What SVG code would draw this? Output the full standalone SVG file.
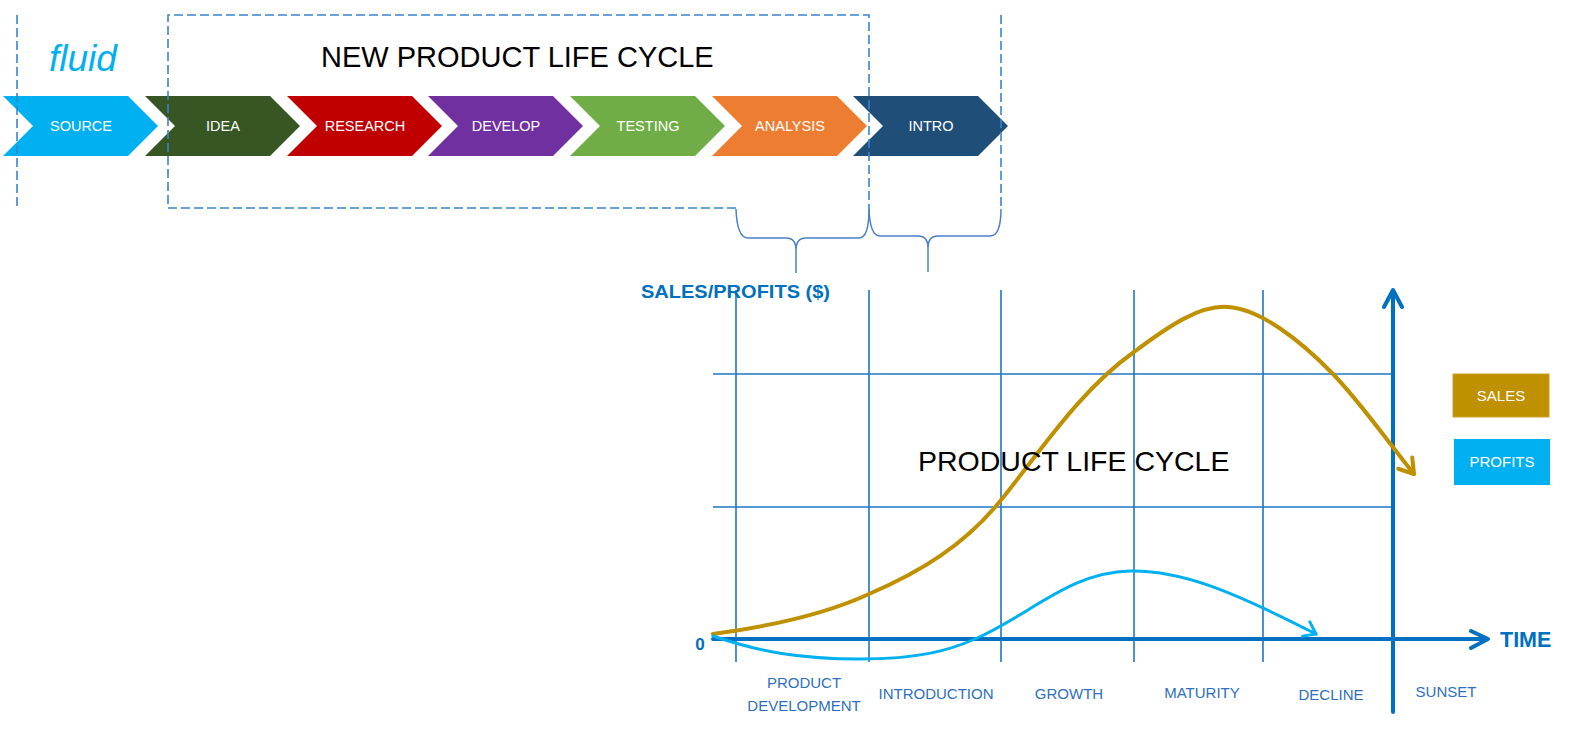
<svg xmlns="http://www.w3.org/2000/svg" width="1578" height="732" viewBox="0 0 1578 732">
<style>
.chev-t{font-family:"Liberation Sans",Arial,sans-serif;font-size:14.5px;fill:#fff;text-anchor:middle}
.dash{fill:none;stroke:#3A84CC;stroke-width:1.6;stroke-dasharray:9 4}
.brace{fill:none;stroke:#4A80C8;stroke-width:1.5}
.grid{stroke:#1F77C8;stroke-width:1.6;fill:none}
.axis{stroke:#0070C0;stroke-width:4;fill:none;stroke-linecap:round;stroke-linejoin:round}
.phase{font-family:"Liberation Sans",Arial,sans-serif;font-size:15px;fill:#2F6FC0;text-anchor:middle}
.axlab{font-family:"Liberation Sans",Arial,sans-serif;font-weight:bold;fill:#0070C0}
.title{font-family:"Liberation Sans",Arial,sans-serif;fill:#000}
.leg-t{font-family:"Liberation Sans",Arial,sans-serif;font-size:15px;fill:#fff;text-anchor:middle}
</style>
<defs>
<marker id="arrGold" markerUnits="userSpaceOnUse" markerWidth="30" markerHeight="30" refX="20" refY="10" orient="auto" viewBox="0 0 30 20">
<path d="M6,1 L20,10 L6,19" fill="none" stroke="#BF9000" stroke-width="4" stroke-linecap="round" stroke-linejoin="round"/>
</marker>
<marker id="arrBlue" markerUnits="userSpaceOnUse" markerWidth="30" markerHeight="30" refX="18" refY="10" orient="auto" viewBox="0 0 30 20">
<path d="M7,2 L18,10 L7,18" fill="none" stroke="#00B0F0" stroke-width="3" stroke-linecap="round" stroke-linejoin="round"/>
</marker>
</defs>
<rect width="1578" height="732" fill="#fff"/>

<g id="chevrons">
<g id="source"><polygon points="3,96 128,96 158,126 128,156 3,156 33,126" fill="#00B0F0"/><text class="chev-t" x="81" y="131">SOURCE</text></g>
<g id="idea"><polygon points="145,96 270,96 300,126 270,156 145,156 175,126" fill="#375623"/><text class="chev-t" x="223" y="131">IDEA</text></g>
<g id="research"><polygon points="287,96 412,96 442,126 412,156 287,156 317,126" fill="#C00000"/><text class="chev-t" x="365" y="131">RESEARCH</text></g>
<g id="develop"><polygon points="428,96 553,96 583,126 553,156 428,156 458,126" fill="#7030A0"/><text class="chev-t" x="506" y="131">DEVELOP</text></g>
<g id="testing"><polygon points="570,96 695,96 725,126 695,156 570,156 600,126" fill="#70AD47"/><text class="chev-t" x="648" y="131">TESTING</text></g>
<g id="analysis"><polygon points="712,96 837,96 867,126 837,156 712,156 742,126" fill="#ED7D31"/><text class="chev-t" x="790" y="131">ANALYSIS</text></g>
<g id="intro"><polygon points="853,96 978,96 1008,126 978,156 853,156 883,126" fill="#1F4E79"/><text class="chev-t" x="931" y="131">INTRO</text></g>
</g>

<g id="frames">
<path class="dash" d="M17,15 V208"/>
<path class="dash" d="M736,208 H168 V15 H869 V209"/>
<path class="dash" d="M1001,15 V209"/>
<path class="brace" d="M736,209 Q737,238 748,238 H786 Q796,238 796,250 V273 M796,250 Q796,238 806,238 H859 Q869,238 869,209"/>
<path class="brace" d="M869,209 Q870,236 880,236 H918 Q928,236 928,248 V272 M928,248 Q928,236 938,236 H990 Q1001,236 1001,209"/>
</g>

<text class="title" x="321" y="67" font-size="29">NEW PRODUCT LIFE CYCLE</text>
<text x="49" y="71" font-family="Liberation Sans,Arial,sans-serif" font-style="italic" font-size="37" fill="#00B0F0">fluid</text>

<g id="grid">
<path class="grid" d="M736,290 V662 M869,290 V662 M1001,290 V662 M1134,290 V662 M1263,290 V662"/>
<path class="grid" d="M713,374 H1393 M713,507 H1393"/>
</g>

<g id="axes">
<path class="axis" d="M713,639 H1487 M1471,631 L1488,639 L1471,648"/>
<path class="axis" d="M1393,712 V291 M1384,307 L1393,290 L1402,307"/>
</g>

<g id="curves">
<path d="M713,634 C780,625 830,612 869,594 C920,572 965,545 1001,500 C1040,452 1080,390 1134,352 C1170,325 1200,305 1228,307 C1260,309 1300,340 1333,374 C1360,402 1385,438 1414,474" fill="none" stroke="#BF9000" stroke-width="4" stroke-linecap="round" marker-end="url(#arrGold)"/>
<path d="M713,636 C760,652 800,659 860,659 C920,659 950,650 975,639 C1030,615 1070,572 1130,571 C1180,570 1230,590 1316,634" fill="none" stroke="#00B0F0" stroke-width="3" stroke-linecap="round" marker-end="url(#arrBlue)"/>
</g>

<text class="title" x="918" y="471" font-size="28.5">PRODUCT LIFE CYCLE</text>

<text class="axlab" x="641" y="298" font-size="18.5" textLength="189" lengthAdjust="spacingAndGlyphs">SALES/PROFITS ($)</text>
<text class="axlab" x="700" y="650" font-size="17" text-anchor="middle">0</text>
<text class="axlab" x="1500" y="647" font-size="21.5">TIME</text>

<g id="phases">
<text class="phase" x="804" y="688">PRODUCT</text>
<text class="phase" x="804" y="711">DEVELOPMENT</text>
<text class="phase" x="936" y="699">INTRODUCTION</text>
<text class="phase" x="1069" y="699">GROWTH</text>
<text class="phase" x="1202" y="698">MATURITY</text>
<text class="phase" x="1331" y="700">DECLINE</text>
<text class="phase" x="1446" y="697">SUNSET</text>
</g>

<g id="legend-sales"><rect x="1453" y="374" width="96" height="43" fill="#BF9000" stroke="#C9A227" stroke-width="1"/><text class="leg-t" x="1501" y="401">SALES</text></g>
<g id="legend-profits"><rect x="1454" y="439" width="96" height="46" fill="#00B0F0"/><text class="leg-t" x="1502" y="467">PROFITS</text></g>
</svg>
